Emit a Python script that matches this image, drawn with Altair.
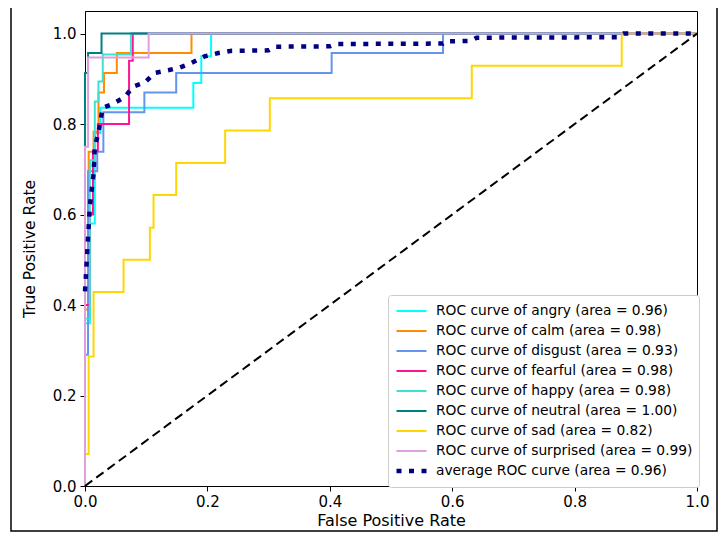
import altair as alt
import pandas as pd

# ---- data ----
labels = ["angry", "calm", "disgust", "fearful", "happy", "neutral", "sad", "surprised"]
areas = ["0.96", "0.98", "0.93", "0.98", "0.98", "1.00", "0.82", "0.99"]
colors = ["#00FFFF", "#FF8C00", "#6495ED", "#FF1493", "#40E0D0", "#008080", "#FFD700", "#DDA0DD"]
avg_area = "0.96"
avg_color = "#000080"

angry_fpr = [0, 0, 0.008, 0.008, 0.016, 0.016, 0.025, 0.025, 0.177, 0.177, 0.19, 0.19, 0.206, 0.206, 1]
angry_tpr = [0, 0.36, 0.36, 0.58, 0.58, 0.78, 0.78, 0.836, 0.836, 0.891, 0.891, 0.95, 0.95, 1, 1]

calm_fpr = [0, 0, 0.006, 0.006, 0.014, 0.014, 0.022, 0.022, 0.031, 0.031, 0.052, 0.052, 0.174, 0.174, 1]
calm_tpr = [0, 0.39, 0.39, 0.739, 0.739, 0.783, 0.783, 0.870, 0.870, 0.913, 0.913, 0.957, 0.957, 1, 1]

disgust_fpr = [0, 0, 0.005, 0.005, 0.02, 0.02, 0.03, 0.03, 0.097, 0.097, 0.149, 0.149, 0.403, 0.403, 0.585, 0.585, 1]
disgust_tpr = [0, 0.29, 0.29, 0.696, 0.696, 0.739, 0.739, 0.826, 0.826, 0.870, 0.870, 0.913, 0.913, 0.957, 0.957, 1, 1]

fearful_fpr = [0, 0, 0.008, 0.008, 0.013, 0.013, 0.021, 0.021, 0.072, 0.072, 0.078, 0.078, 1]
fearful_tpr = [0, 0.40, 0.40, 0.60, 0.60, 0.74, 0.74, 0.80, 0.80, 0.94, 0.94, 1, 1]

happy_fpr = [0, 0, 0.008, 0.008, 0.016, 0.016, 0.022, 0.022, 0.029, 0.029, 0.075, 0.075, 1]
happy_tpr = [0, 0.37, 0.37, 0.72, 0.72, 0.85, 0.85, 0.894, 0.894, 0.954, 0.954, 1, 1]

neutral_fpr = [0, 0, 0.005, 0.005, 0.027, 0.027, 1]
neutral_tpr = [0, 0.913, 0.913, 0.957, 0.957, 1, 1]

sad_fpr = [0, 0, 0.006, 0.006, 0.014, 0.014, 0.063, 0.063, 0.106, 0.106, 0.112, 0.112, 0.149, 0.149,
           0.229, 0.229, 0.302, 0.302, 0.632, 0.632, 0.877, 0.877, 1]
sad_tpr = [0, 0.071, 0.071, 0.286, 0.286, 0.429, 0.429, 0.5, 0.5, 0.571, 0.571, 0.643, 0.643, 0.714,
           0.714, 0.786, 0.786, 0.857, 0.857, 0.929, 0.929, 1, 1]

surprised_fpr = [0, 0, 0.005, 0.005, 0.104, 0.104, 1]
surprised_tpr = [0, 0.75, 0.75, 0.947, 0.947, 1, 1]

avg_fpr = [0, 0.005, 0.008, 0.014, 0.016, 0.022, 0.025, 0.029, 0.046, 0.065, 0.079, 0.098, 0.114, 0.136,
           0.155, 0.174, 0.196, 0.218, 0.24, 0.30, 0.31, 0.40, 0.41, 0.585, 0.59, 0.63, 0.64, 0.87, 0.88, 1]
avg_tpr = [0.43, 0.55, 0.62, 0.69, 0.75, 0.78, 0.806, 0.836, 0.845, 0.86, 0.883, 0.892, 0.913, 0.919,
           0.925, 0.935, 0.95, 0.957, 0.962, 0.963, 0.971, 0.972, 0.977, 0.978, 0.983, 0.984, 0.991, 0.992, 1.0, 1.0]

diag_x = [0, 1]
diag_y = [0, 1]

class_fpr = [angry_fpr, calm_fpr, disgust_fpr, fearful_fpr, happy_fpr, neutral_fpr, sad_fpr, surprised_fpr]
class_tpr = [angry_tpr, calm_tpr, disgust_tpr, fearful_tpr, happy_tpr, neutral_tpr, sad_tpr, surprised_tpr]

# ---- tables ----
names = [f"ROC curve of {c} (area = {a})" for c, a in zip(labels, areas)]
avg_name = f"average ROC curve (area = {avg_area})"
all_names = names + [avg_name]

rows = []
for name, fx, fy in zip(names, class_fpr, class_tpr):
    for i, (a, b) in enumerate(zip(fx, fy)):
        rows.append({"series": name, "fpr": a, "tpr": b, "i": i})
df_cls = pd.DataFrame(rows)
df_avg = pd.DataFrame({"series": avg_name, "fpr": avg_fpr, "tpr": avg_tpr, "i": range(len(avg_fpr))})
df_diag = pd.DataFrame({"fpr": diag_x, "tpr": diag_y})

FONT = "DejaVu Sans"

color_scale = alt.Scale(domain=all_names, range=colors + [avg_color])
dash_scale = alt.Scale(type="ordinal", domain=all_names, range=[[1, 0]] * 8 + [[5, 7.5]])
width_scale = alt.Scale(type="ordinal", domain=all_names, range=[2] * 8 + [4.5])

legend = alt.Legend(title=None, orient="none", legendX=303, legendY=284)

xenc = alt.X("fpr:Q", scale=alt.Scale(domain=[0, 1], nice=False, zero=False),
             axis=alt.Axis(values=[0, 0.2, 0.4, 0.6, 0.8, 1.0], format=".1f", labelFlush=False),
             title="False Positive Rate")
yenc = alt.Y("tpr:Q", scale=alt.Scale(domain=[0, 1.05], nice=False, zero=False),
             axis=alt.Axis(values=[0, 0.2, 0.4, 0.6, 0.8, 1.0], format=".1f", labelFlush=False),
             title="True Positive Rate")

def series_enc():
    return dict(
        x=xenc, y=yenc,
        color=alt.Color("series:N", scale=color_scale, legend=legend, sort=all_names),
        strokeDash=alt.StrokeDash("series:N", scale=dash_scale, legend=legend, sort=all_names),
        strokeWidth=alt.StrokeWidth("series:N", scale=width_scale, legend=legend, sort=all_names),
        order=alt.Order("i:Q"),
    )

classes = alt.Chart(df_cls).mark_line(strokeCap="butt", strokeJoin="miter").encode(**series_enc())
avg = alt.Chart(df_avg).mark_line(strokeCap="butt").encode(**series_enc())
diag = alt.Chart(df_diag).mark_line(color="black", strokeDash=[9, 5], strokeWidth=2).encode(
    x="fpr:Q", y="tpr:Q")
frame = alt.Chart(pd.DataFrame({"k": [0]})).mark_rect(fill=None, stroke="black", strokeWidth=1.5).encode(
    x=alt.value(-74), x2=alt.value(632), y=alt.value(-7), y2=alt.value(520))

chart = alt.layer(classes, avg, diag, frame).properties(
    width=612, height=475,
    padding={"left": 77, "top": 3, "right": 22, "bottom": 46},
    autosize=alt.AutoSizeParams(type="none"),
).configure_view(
    stroke="black", strokeWidth=1
).configure_axis(
    grid=False, domainColor="black", tickColor="black", tickSize=5,
    labelColor="black", labelFont=FONT, labelFontSize=15, labelPadding=4,
    titleColor="black", titleFont=FONT, titleFontWeight="normal",
).configure_axisX(
    titleFontSize=16, titlePadding=3, labelPadding=3,
).configure_axisY(
    titleFontSize=15.5, titlePadding=15,
).configure_legend(
    strokeColor="#cccccc", fillColor="white", cornerRadius=3, padding=6,
    symbolType="stroke", symbolSize=900, clipHeight=20, rowPadding=0,
    labelFont=FONT, labelFontSize=13.8, labelColor="black", labelOffset=7,
    labelLimit=400,
)

chart.save("out.html", embed_options={"renderer": "svg", "actions": False})
